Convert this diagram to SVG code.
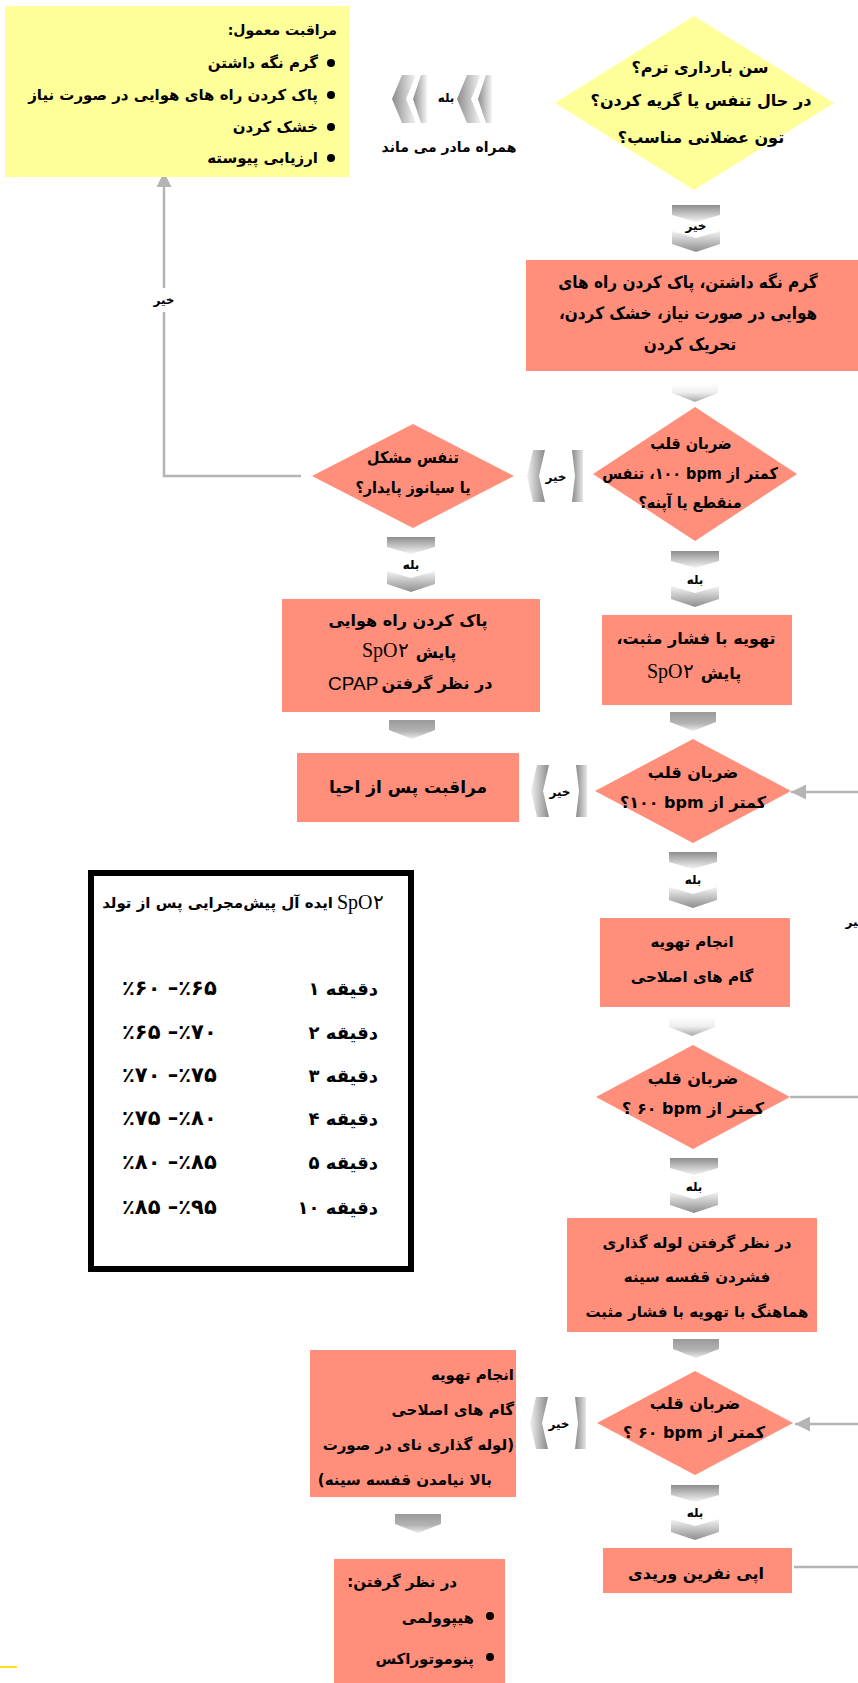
<svg xmlns="http://www.w3.org/2000/svg" xmlns:xlink="http://www.w3.org/1999/xlink" width="858" height="1683" viewBox="0 0 858 1683">
  <style>
    .fa { font-family: "DejaVu Sans", sans-serif; font-weight: bold; direction: rtl; dominant-baseline: central; fill: #000; }
    .cn { font-family: "DejaVu Sans Condensed", "DejaVu Sans", sans-serif; }
    .c { text-anchor: middle; }
    .r { text-anchor: start; }
    .lbl { font-size: 12px; }
    .lat { font-family: "Liberation Serif", "DejaVu Serif", serif; font-weight: normal; dominant-baseline: central; fill: #000; }
    .yel { fill: #FFFF99; }
    .sal { fill: #FF8E7A; }
    .conn { fill: none; stroke: #B4B4B4; stroke-width: 2.5; }
  </style>
  <defs>
    <linearGradient id="gTop" x1="0" y1="0" x2="0" y2="1">
      <stop offset="0" stop-color="#8e8e8e"/>
      <stop offset="1" stop-color="#f4f4f4"/>
    </linearGradient>
    <linearGradient id="gBot" x1="0" y1="0" x2="0" y2="1">
      <stop offset="0" stop-color="#f4f4f4"/>
      <stop offset="1" stop-color="#8e8e8e"/>
    </linearGradient>
    <linearGradient id="gPlain" x1="0" y1="0" x2="0" y2="1">
      <stop offset="0" stop-color="#9a9a9a"/>
      <stop offset="0.6" stop-color="#b4b4b4"/>
      <stop offset="1" stop-color="#ececec"/>
    </linearGradient>
    <linearGradient id="gFaint" x1="0" y1="0" x2="0" y2="1">
      <stop offset="0" stop-color="#ffffff"/>
      <stop offset="0.5" stop-color="#eeeeee"/>
      <stop offset="1" stop-color="#a8a8a8"/>
    </linearGradient>
    <linearGradient id="gHTip" x1="0" y1="0" x2="1" y2="0">
      <stop offset="0" stop-color="#f0f0f0"/>
      <stop offset="1" stop-color="#8a8a8a"/>
    </linearGradient>
    <linearGradient id="gHBar" x1="0" y1="0" x2="1" y2="0">
      <stop offset="0" stop-color="#8a8a8a"/>
      <stop offset="1" stop-color="#e6e6e6"/>
    </linearGradient>
    <linearGradient id="gD" x1="0" y1="0" x2="1" y2="0">
      <stop offset="0" stop-color="#8c8c8c"/>
      <stop offset="1" stop-color="#f5f5f5"/>
    </linearGradient>
    <!-- split down-chevron pieces -->
    <polygon id="vTop" points="-24,0 24,0 24,10 0,17 -24,10"/>
    <polygon id="vBot" points="-24,0 0,7 24,0 24,13 0,21 -24,13"/>
    <polygon id="vPlain" points="-23,0 23,0 23,10 0,19 -23,10"/>
    <!-- split left-chevron pieces -->
    <polygon id="hTip" points="0,26 6,0 18,0 12,26 18,52 6,52"/>
    <polygon id="hBar" points="45,0 56,0 56,52 45,52 48,26"/>
    <!-- double chevron pieces -->
    <polygon id="dA" points="0,24 10,0 24,0 14,24 24,48 10,48"/>
    <polygon id="dB" points="21,24 29,0 35,0 35,48 29,48"/>
    <marker id="arr" viewBox="0 0 15 15" refX="15" refY="7.5" markerWidth="15" markerHeight="15" markerUnits="userSpaceOnUse" orient="auto">
      <path d="M0,0 L15,7.5 L0,15 z" fill="#B4B4B4"/>
    </marker>
  </defs>

  <rect width="858" height="1683" fill="#ffffff"/>

  <!-- connectors -->
  <g id="connectors">
    <path class="conn" d="M301,476 H164 V312"/>
    <path class="conn" d="M164,288 V172" marker-end="url(#arr)"/>
    <text class="fa c lbl" x="164" y="300">خیر</text>
    <path class="conn" d="M858,792 H791" marker-end="url(#arr)"/>
    <path class="conn" d="M790,1097 H858"/>
    <path class="conn" d="M858,1424 H795" marker-end="url(#arr)"/>
    <path class="conn" d="M794,1567 H858"/>
    <text class="fa c lbl" x="856" y="922">خیر</text>
    <line x1="0" y1="1667" x2="17" y2="1667" stroke="#FFE11A" stroke-width="2"/>
  </g>

  <!-- routine care -->
  <g id="routine-care">
    <rect class="yel" x="5" y="6" width="344" height="171"/>
    <text class="fa r" x="337" y="30" font-size="14">مراقبت معمول:</text>
    <g fill="#000">
      <circle cx="331" cy="63" r="4"/>
      <circle cx="331" cy="95" r="4"/>
      <circle cx="331" cy="127" r="4"/>
      <circle cx="331" cy="158" r="4"/>
    </g>
    <text class="fa r" x="318" y="63" font-size="15">گرم نگه داشتن</text>
    <text class="fa r" x="318" y="95" font-size="15">پاک کردن راه های هوایی در صورت نیاز</text>
    <text class="fa r" x="318" y="127" font-size="15">خشک کردن</text>
    <text class="fa r" x="318" y="158" font-size="15">ارزیابی پیوسته</text>
  </g>

  <!-- stays with mother -->
  <g id="stay-with-mother">
    <use href="#dA" x="392" y="75" fill="url(#gD)"/>
    <use href="#dB" x="392" y="75" fill="url(#gD)"/>
    <use href="#dA" x="457" y="75" fill="url(#gD)"/>
    <use href="#dB" x="457" y="75" fill="url(#gD)"/>
    <text class="fa c lbl" x="446" y="98">بله</text>
    <text class="fa c" x="449" y="147" font-size="14">همراه مادر می ماند</text>
  </g>

  <!-- initial questions -->
  <g id="q-term">
    <polygon class="yel" points="694,16 834,103 694,190 555,103"/>
    <text class="fa c" x="700" y="67" font-size="16">سن بارداری ترم؟</text>
    <text class="fa c" x="701" y="100" font-size="16">در حال تنفس یا گریه کردن؟</text>
    <text class="fa c" x="701" y="137" font-size="16">تون عضلانی مناسب؟</text>
  </g>

  <g id="chev-no-1">
    <use href="#vTop" x="696" y="205" fill="url(#gTop)"/>
    <text class="fa c lbl" x="696" y="226">خیر</text>
    <use href="#vBot" x="696" y="231" fill="url(#gBot)"/>
  </g>

  <g id="initial-steps">
    <rect class="sal" x="526" y="260" width="332" height="111"/>
    <text class="fa cn c" x="688" y="282" font-size="17">گرم نگه داشتن،  پاک کردن راه های</text>
    <text class="fa cn c" x="688" y="313" font-size="17">هوایی در صورت نیاز، خشک کردن،</text>
    <text class="fa cn c" x="690" y="344" font-size="17">تحریک کردن</text>
  </g>

  <g id="chev-faint-1">
    <use href="#vPlain" x="695" y="383" fill="url(#gFaint)"/>
  </g>

  <g id="q-hr-apnea">
    <polygon class="sal" points="695,407 797,474 695,541 593,474"/>
    <text class="fa cn c" x="691" y="443" font-size="16">ضربان قلب</text>
    <text class="fa cn c" x="690" y="473" font-size="16">کمتر از bpm&#x200F; ۱۰۰، تنفس</text>
    <text class="fa cn c" x="690" y="502" font-size="16">منقطع یا آپنه؟</text>
  </g>

  <g id="chev-no-2">
    <use href="#hTip" x="527" y="450" fill="url(#gHTip)"/>
    <use href="#hBar" x="527" y="450" fill="url(#gHBar)"/>
    <text class="fa c lbl" x="556" y="477">خیر</text>
  </g>

  <g id="q-laboured">
    <polygon class="sal" points="413,424 514,476 413,528 312,476"/>
    <text class="fa cn c" x="413" y="457" font-size="16">تنفس مشکل</text>
    <text class="fa cn c" x="413" y="487" font-size="16">یا سیانوز پایدار؟</text>
  </g>

  <g id="chev-yes-left-1">
    <use href="#vTop" x="411" y="537" fill="url(#gTop)"/>
    <text class="fa c lbl" x="411" y="565">بله</text>
    <use href="#vBot" x="411" y="571" fill="url(#gBot)"/>
  </g>

  <g id="airway-cpap">
    <rect class="sal" x="282" y="599" width="258" height="113"/>
    <text class="fa c" x="408" y="620" font-size="16">پاک کردن راه  هوایی</text>
    <text class="fa c" x="436" y="652" font-size="16">پایش</text>
    <text class="lat" x="362" y="650" font-size="20">SpO۲</text>
    <text class="fa c" x="437" y="683" font-size="16">در نظر گرفتن</text>
    <text x="328" y="683" font-family="Liberation Sans, sans-serif" font-size="19" dominant-baseline="central">CPAP</text>
  </g>

  <g id="chev-plain-1">
    <use href="#vPlain" x="412" y="720" fill="url(#gPlain)"/>
  </g>

  <g id="post-resus">
    <rect class="sal" x="297" y="753" width="222" height="69"/>
    <text class="fa c" x="408" y="787" font-size="17">مراقبت پس از احیا</text>
  </g>

  <g id="chev-no-3">
    <use href="#hTip" x="531" y="765" fill="url(#gHTip)"/>
    <use href="#hBar" x="531" y="765" fill="url(#gHBar)"/>
    <text class="fa c lbl" x="560" y="792">خیر</text>
  </g>

  <g id="chev-yes-right-1">
    <use href="#vTop" x="695" y="551" fill="url(#gTop)"/>
    <text class="fa c lbl" x="695" y="580">بله</text>
    <use href="#vBot" x="695" y="586" fill="url(#gBot)"/>
  </g>

  <g id="ppv">
    <rect class="sal" x="602" y="615" width="190" height="90"/>
    <text class="fa c" x="696" y="638" font-size="16">تهویه با فشار مثبت،</text>
    <text class="fa c" x="721" y="673" font-size="16">پایش</text>
    <text class="lat" x="647" y="671" font-size="20">SpO۲</text>
  </g>

  <g id="chev-plain-2">
    <use href="#vPlain" x="693" y="712" fill="url(#gPlain)"/>
  </g>

  <g id="q-hr-100">
    <polygon class="sal" points="693,739 791,791 693,843 595,791"/>
    <text class="fa c" x="693" y="772" font-size="16">ضربان قلب</text>
    <text class="fa c" x="693" y="802" font-size="16">کمتر از bpm&#x200F; ۱۰۰؟</text>
  </g>

  <g id="chev-yes-right-2">
    <use href="#vTop" x="693" y="852" fill="url(#gTop)"/>
    <text class="fa c lbl" x="693" y="880">بله</text>
    <use href="#vBot" x="693" y="887" fill="url(#gBot)"/>
  </g>

  <g id="corrective-1">
    <rect class="sal" x="600" y="918" width="190" height="89"/>
    <text class="fa c" x="692" y="942" font-size="15">انجام تهویه</text>
    <text class="fa c" x="692" y="977" font-size="15">گام های اصلاحی</text>
  </g>

  <g id="chev-faint-2">
    <use href="#vPlain" x="692" y="1017" fill="url(#gFaint)"/>
  </g>

  <g id="q-hr-60-a">
    <polygon class="sal" points="693,1045 790,1097 693,1149 596,1097"/>
    <text class="fa c" x="693" y="1078" font-size="16">ضربان قلب</text>
    <text class="fa c" x="693" y="1108" font-size="16">کمتر از bpm&#x200F; ۶۰ ؟</text>
  </g>

  <g id="chev-yes-right-3">
    <use href="#vTop" x="694" y="1158" fill="url(#gTop)"/>
    <text class="fa c lbl" x="694" y="1187">بله</text>
    <use href="#vBot" x="694" y="1192" fill="url(#gBot)"/>
  </g>

  <g id="intubation">
    <rect class="sal" x="567" y="1218" width="250" height="114"/>
    <text class="fa c" x="697" y="1243" font-size="15">در نظر گرفتن لوله گذاری</text>
    <text class="fa c" x="697" y="1277" font-size="15">فشردن قفسه سینه</text>
    <text class="fa c" x="697" y="1312" font-size="15">هماهنگ با تهویه با فشار مثبت</text>
  </g>

  <g id="chev-plain-3">
    <use href="#vPlain" x="696" y="1339" fill="url(#gPlain)"/>
  </g>

  <g id="q-hr-60-b">
    <polygon class="sal" points="695,1371 793,1423 695,1475 597,1423"/>
    <text class="fa c" x="695" y="1403" font-size="16">ضربان قلب</text>
    <text class="fa c" x="694" y="1432" font-size="16">کمتر از bpm&#x200F; ۶۰ ؟</text>
  </g>

  <g id="chev-no-4">
    <use href="#hTip" x="530" y="1397" fill="url(#gHTip)"/>
    <use href="#hBar" x="530" y="1397" fill="url(#gHBar)"/>
    <text class="fa c lbl" x="559" y="1424">خیر</text>
  </g>

  <g id="corrective-2">
    <rect class="sal" x="310" y="1350" width="206" height="147"/>
    <text class="fa r" x="514" y="1375" font-size="15">انجام تهویه</text>
    <text class="fa r" x="514" y="1410" font-size="15">گام های اصلاحی</text>
    <text class="fa r" x="514" y="1445" font-size="15">(لوله گذاری نای در صورت</text>
    <text class="fa r" x="492" y="1480" font-size="15">بالا نیامدن قفسه سینه)</text>
  </g>

  <g id="chev-plain-4">
    <use href="#vPlain" x="418" y="1514" fill="url(#gPlain)"/>
  </g>

  <g id="consider">
    <rect class="sal" x="334" y="1559" width="171" height="124"/>
    <text class="fa r" x="457" y="1582" font-size="15">در نظر گرفتن:</text>
    <circle cx="490" cy="1616" r="4"/>
    <circle cx="490" cy="1657" r="4"/>
    <text class="fa r" x="474" y="1618" font-size="15">هیپوولمی</text>
    <text class="fa r" x="474" y="1659" font-size="15">پنوموتوراکس</text>
  </g>

  <g id="chev-yes-right-4">
    <use href="#vTop" x="695" y="1485" fill="url(#gTop)"/>
    <text class="fa c lbl" x="695" y="1513">بله</text>
    <use href="#vBot" x="695" y="1519" fill="url(#gBot)"/>
  </g>

  <g id="epinephrine">
    <rect class="sal" x="603" y="1548" width="189" height="45"/>
    <text class="fa c" x="696" y="1573" font-size="16">اپی نفرین وریدی</text>
  </g>

  <!-- target pre-ductal SpO2 table -->
  <g id="spo2-table">
    <rect x="91" y="873" width="320" height="396" fill="#ffffff" stroke="#000" stroke-width="6"/>
    <text class="lat" x="337" y="902" font-size="20">SpO۲</text>
    <text class="fa r" x="333" y="903" font-size="15">ایده آل پیش‌مجرایی پس از تولد</text>
    <g font-size="18">
      <text class="fa r" x="378" y="988">دقیقه ۱</text>
      <text class="fa r" x="378" y="1032">دقیقه ۲</text>
      <text class="fa r" x="378" y="1075">دقیقه ۳</text>
      <text class="fa r" x="378" y="1118">دقیقه ۴</text>
      <text class="fa r" x="378" y="1162">دقیقه ۵</text>
      <text class="fa r" x="378" y="1207">دقیقه ۱۰</text>
    </g>
    <g font-size="21" font-family="DejaVu Sans, sans-serif" font-weight="bold" dominant-baseline="central" direction="ltr">
      <text x="122" y="988">٪۶۰ –٪۶۵</text>
      <text x="122" y="1032">٪۶۵ –٪۷۰</text>
      <text x="122" y="1075">٪۷۰ –٪۷۵</text>
      <text x="122" y="1118">٪۷۵ –٪۸۰</text>
      <text x="122" y="1162">٪۸۰ –٪۸۵</text>
      <text x="122" y="1207">٪۸۵ –٪۹۵</text>
    </g>
  </g>
</svg>
